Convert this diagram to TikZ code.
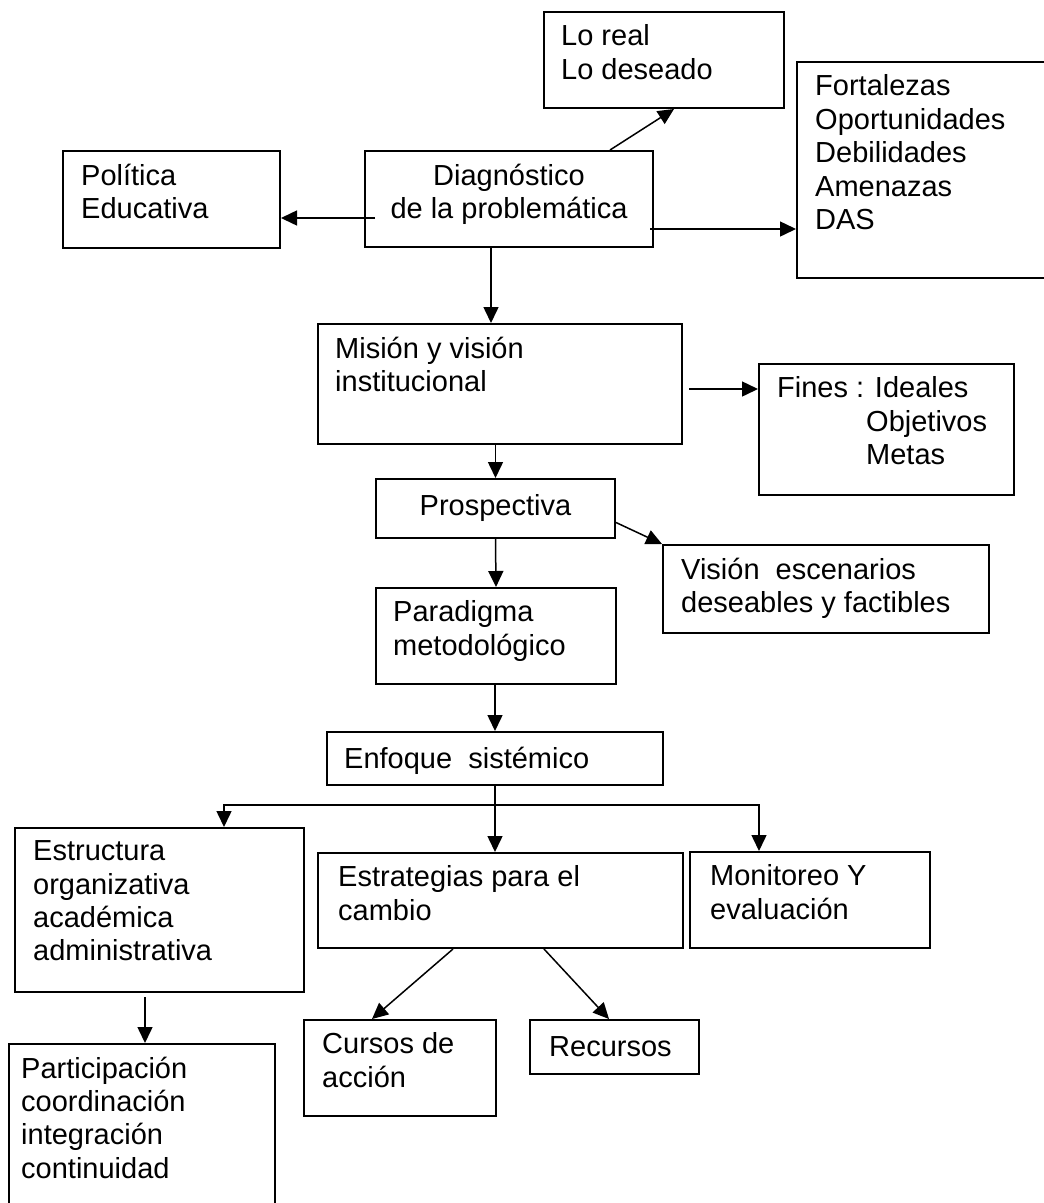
\documentclass[tikz,border=0pt]{standalone}
\usepackage{fontspec}
\setmainfont{Liberation Sans}
\usetikzlibrary{arrows.meta,calc}
\begin{document}
\begin{tikzpicture}[x=1pt, y=1pt,
  box/.style={draw, line width=2pt, anchor=north west, inner sep=0pt},
  txt/.style={anchor=north west, inner sep=0pt, align=left, font=\fontsize{29}{33.4}\selectfont, execute at begin node=\strut},
  arr/.style={line width=1.5pt, -{Triangle[length=16pt, width=15pt]}}]
  \fill[white] (0,0) rectangle (1044,-1203);
  \useasboundingbox (0,0) rectangle (1044,-1203);
  \clip (0,0) rectangle (1044,-1203);

  % boxes
  \node[box, minimum width=240, minimum height=96] (loreal) at (543,-11) {};
  \node[box, minimum width=270, minimum height=216] (foda) at (796,-61) {};
  \node[box, minimum width=217, minimum height=97] (politica) at (62,-150) {};
  \node[box, minimum width=288, minimum height=96] (diag) at (364,-150) {};
  \node[box, minimum width=364, minimum height=120] (mision) at (317,-323) {};
  \node[box, minimum width=255, minimum height=131] (fines) at (758,-363) {};
  \node[box, minimum width=239, minimum height=59] (prosp) at (375,-478) {};
  \node[box, minimum width=326, minimum height=88] (vision) at (662,-544) {};
  \node[box, minimum width=240, minimum height=96] (paradigma) at (375,-587) {};
  \node[box, minimum width=336, minimum height=53] (enfoque) at (326,-731) {};
  \node[box, minimum width=289, minimum height=164] (estruct) at (14,-827) {};
  \node[box, minimum width=365, minimum height=95] (estrat) at (317,-852) {};
  \node[box, minimum width=240, minimum height=96] (monitor) at (689,-851) {};
  \node[box, minimum width=192, minimum height=96] (cursos) at (303,-1019) {};
  \node[box, minimum width=169, minimum height=54] (recursos) at (529,-1019) {};
  \node[box, minimum width=266, minimum height=200] (partic) at (8,-1043) {};

  % texts
  \node[txt] at ($(loreal.north west)+(18,-13.6)$) {Lo real\\Lo deseado};
  \node[txt] at ($(foda.north west)+(19,-13.6)$) {Fortalezas\\Oportunidades\\Debilidades\\Amenazas\\DAS};
  \node[txt] at ($(politica.north west)+(19,-13.6)$) {Política\\Educativa};
  \node[txt, anchor=north, align=center] at ($(diag.north)+(0,-13.6)$) {Diagnóstico\\de la problemática};
  \node[txt] at ($(mision.north west)+(18,-13.6)$) {Misión y visión\\institucional};
  \node[txt] at ($(fines.north west)+(19,-13.6)$) {Fines : Ideales\\\hspace*{89pt}Objetivos\\\hspace*{89pt}Metas};
  \node[txt, anchor=north, align=center] at ($(prosp.north)+(0,-13.6)$) {Prospectiva};
  \node[txt] at ($(vision.north west)+(19,-13.6)$) {Visión~~escenarios\\deseables y factibles};
  \node[txt] at ($(paradigma.north west)+(18,-13.6)$) {Paradigma\\metodológico};
  \node[txt] at ($(enfoque.north west)+(18,-13.6)$) {Enfoque~~sistémico};
  \node[txt] at ($(estruct.north west)+(19,-13.6)$) {Estructura\\organizativa\\académica\\administrativa};
  \node[txt] at ($(estrat.north west)+(21,-13.6)$) {Estrategias para el\\cambio};
  \node[txt] at ($(monitor.north west)+(21,-13.6)$) {Monitoreo Y\\evaluación};
  \node[txt] at ($(cursos.north west)+(19,-13.6)$) {Cursos de\\acción};
  \node[txt] at ($(recursos.north west)+(20,-13.6)$) {Recursos};
  \node[txt] at ($(partic.north west)+(13,-13.6)$) {Participación\\coordinación\\integración\\continuidad};

  % connectors
  \coordinate (d1) at ($(diag.east)+(-4,-30)$);
  \coordinate (d2) at ($(diag.south)+(-18,2)$);
  \coordinate (m1) at ($(mision.east)+(6,-5)$);
  \coordinate (fork) at ($(enfoque.south)+(0,-19)$);
  \coordinate (e1) at ($(estruct.south)+(-14.5,-4)$);
  \draw[arr] ($(diag.north)+(101,0)$) -- ($(loreal.south)+(10,0)$);
  \draw[arr] ($(diag.west)+(11,-19)$) -- ($(politica.east)+(0,-18.5)$);
  \draw[arr] (d1) -- (d1 -| foda.west);
  \draw[arr] (d2) -- (d2 |- mision.north);
  \draw[arr] (m1) -- (m1 -| fines.west);
  \draw[arr] (mision.south -| prosp.north) -- (prosp.north);
  \draw[arr] ($(prosp.east)+(0,-14)$) -- (vision.north west);
  \draw[arr] (prosp.south) -- (paradigma.north);
  \draw[arr] (paradigma.south -| enfoque.north) -- (enfoque.north);
  \draw[arr] (enfoque.south) -- (enfoque.south |- estrat.north);
  \draw[arr] (fork) -| ($(estruct.north)+(64.5,0)$);
  \draw[arr] (fork) -| ($(monitor.north)+(-51,0)$);
  \draw[arr] ($(estrat.south)+(-47.5,0)$) -- ($(cursos.north)+(-28,0)$);
  \draw[arr] ($(estrat.south)+(43.5,0)$) -- ($(recursos.north)+(-5.5,0)$);
  \draw[arr] (e1) -- (e1 |- partic.north);
\end{tikzpicture}
\end{document}
